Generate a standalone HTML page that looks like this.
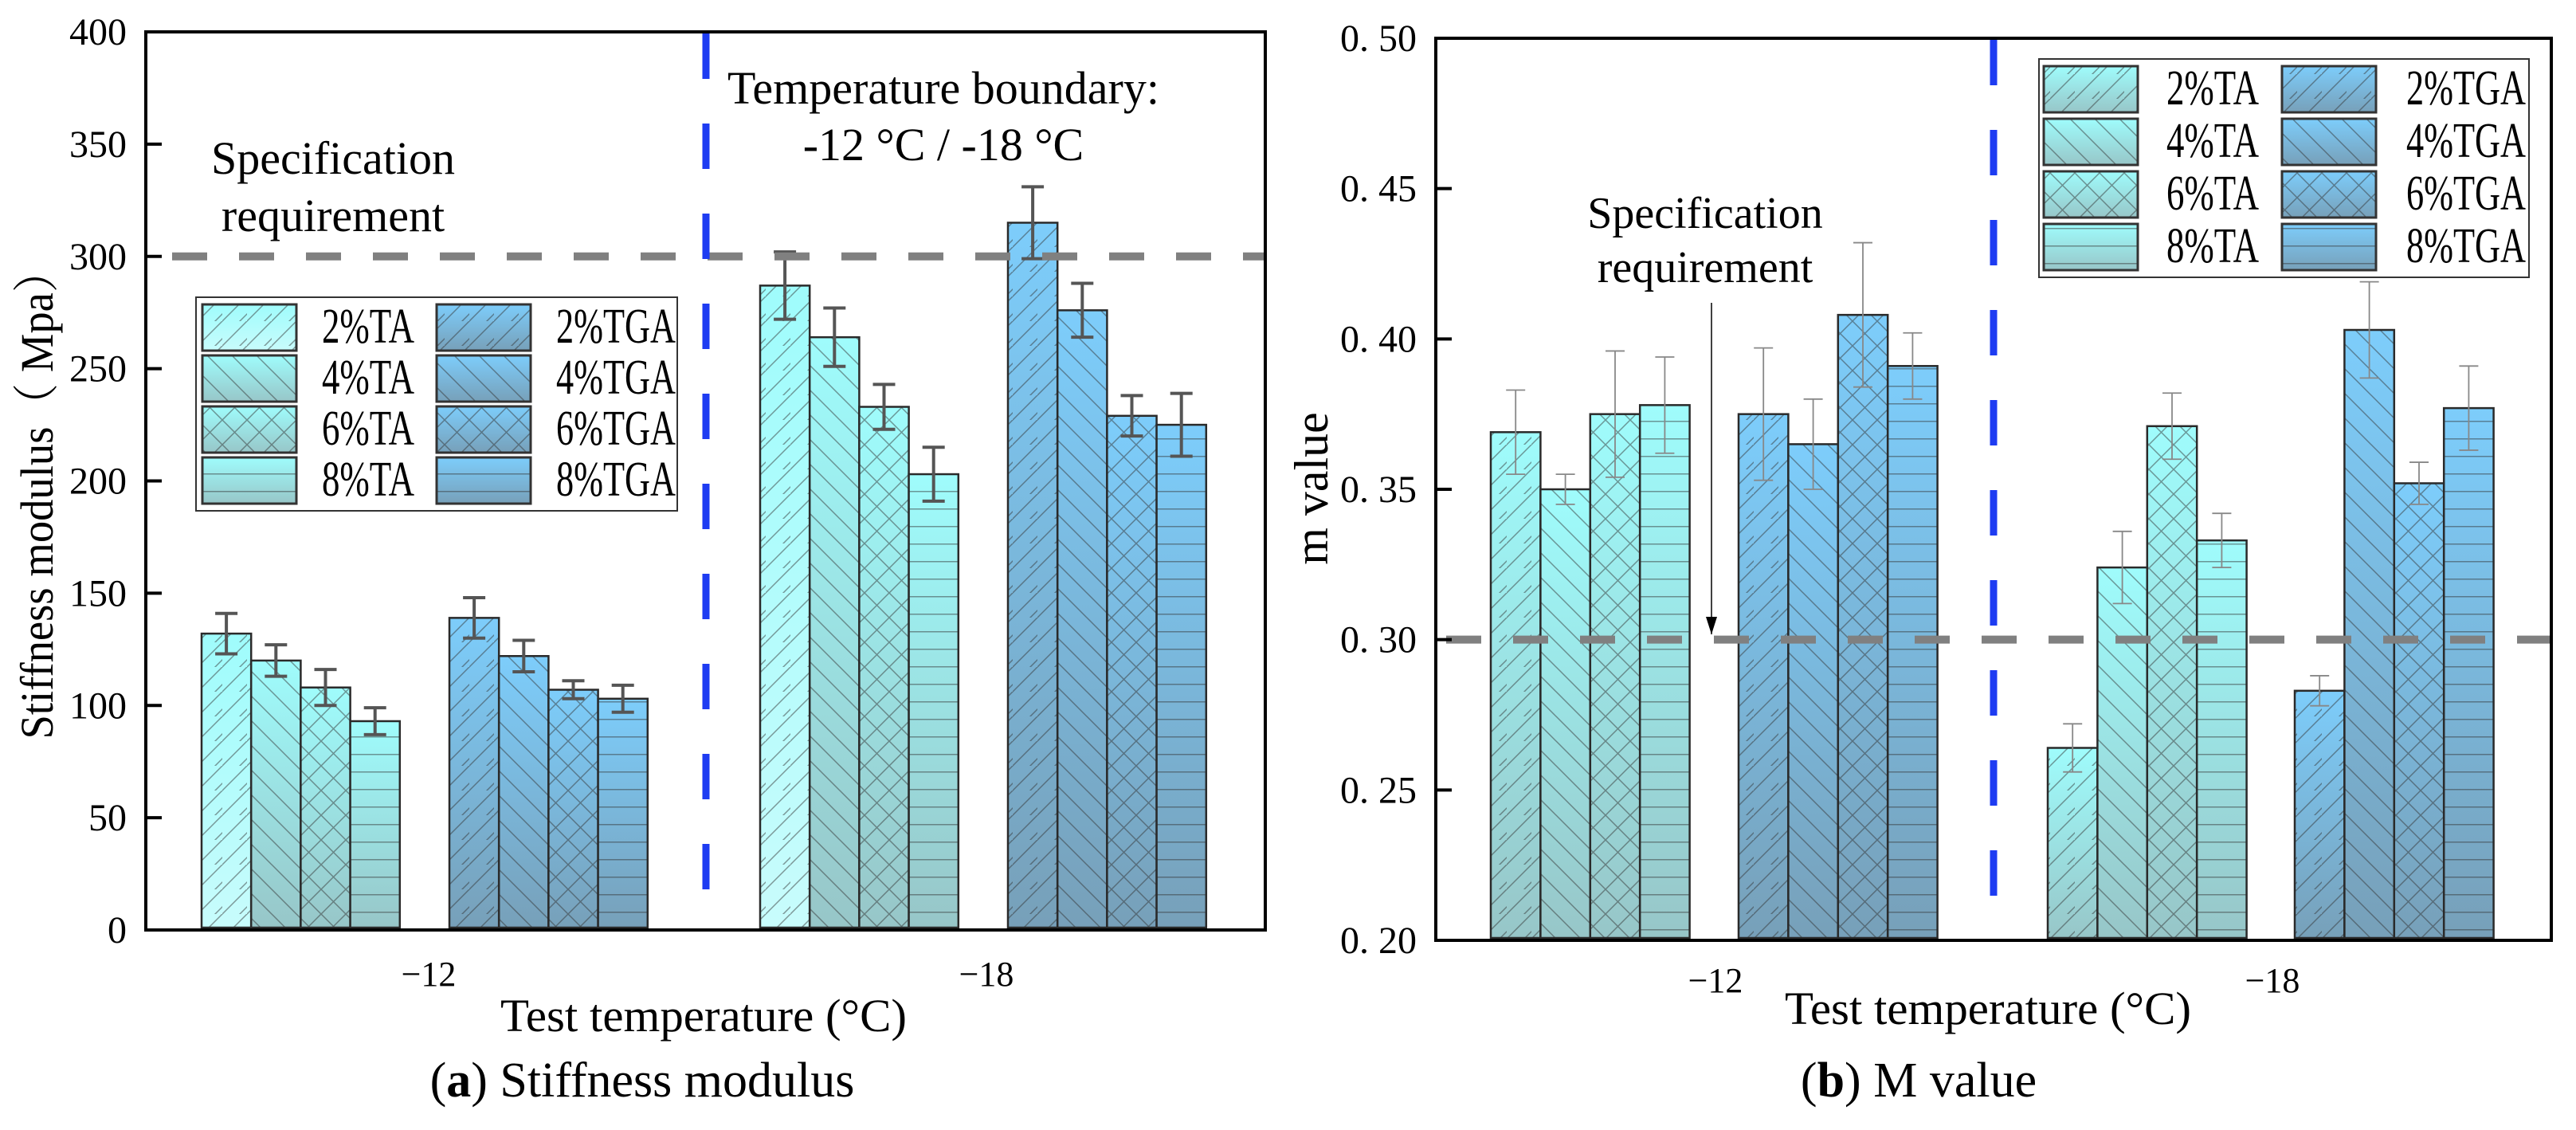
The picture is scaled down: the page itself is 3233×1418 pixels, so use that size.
<!DOCTYPE html>
<html><head><meta charset="utf-8"><style>
html,body{margin:0;padding:0;background:#fff;}
svg{display:block;font-family:"Liberation Serif",serif;}
</style></head><body>
<svg id="root" width="3233" height="1418" viewBox="0 0 3233 1418" xmlns="http://www.w3.org/2000/svg">
<defs>
<linearGradient id="gTA" x1="0" y1="0" x2="0" y2="1"><stop offset="0" stop-color="#9ffcfc"/><stop offset="1" stop-color="#97c6c8"/></linearGradient>
<linearGradient id="gTA2" x1="0" y1="0" x2="0" y2="1"><stop offset="0" stop-color="#9ffcfc"/><stop offset="1" stop-color="#c8fcfc"/></linearGradient>
<linearGradient id="gTGA" x1="0" y1="0" x2="0" y2="1"><stop offset="0" stop-color="#7dcdfb"/><stop offset="1" stop-color="#77a0b9"/></linearGradient>
<pattern id="h0" width="31" height="31" patternUnits="userSpaceOnUse"><path d="M-4,35 L35,-4 M-20,20 L20,-20 M11,42 L42,11" stroke="#333" stroke-width="1.5" stroke-opacity="0.5"/></pattern>
<pattern id="h1" width="31" height="31" patternUnits="userSpaceOnUse"><path d="M-4,-4 L35,35 M-20,11 L20,51 M11,-20 L51,20" stroke="#333" stroke-width="1.5" stroke-opacity="0.5"/></pattern>
<pattern id="h2" width="31" height="31" patternUnits="userSpaceOnUse"><path d="M-4,-4 L35,35 M-4,35 L35,-4" stroke="#333" stroke-width="1.5" stroke-opacity="0.5"/></pattern>
<pattern id="h3" width="31" height="22" patternUnits="userSpaceOnUse"><path d="M0,0.8 L31,0.8" stroke="#333" stroke-width="1.5" stroke-opacity="0.5"/></pattern>
<marker id="arr" markerWidth="22" markerHeight="14" refX="22" refY="7" orient="auto" markerUnits="userSpaceOnUse"><path d="M0,0 L22,7 L0,14 Z" fill="#000"/></marker>
</defs>
</svg>
<script>
// ---------- Data ----------
const categories = ["-12", "-18"];
const seriesNames = ["2%TA","4%TA","6%TA","8%TA","2%TGA","4%TGA","6%TGA","8%TGA"];
// Stiffness modulus (Mpa): [ -12, -18 ]
const stiffTA  = [[132,287],[120,264],[108,233],[93,203]];
const stiffTGA = [[139,315],[122,276],[107,229],[103,225]];
const stiffErrTA  = [[9,15],[7,13],[8,10],[6,12]];
const stiffErrTGA = [[9,16],[7,12],[4,9],[6,14]];
const stiffTicks = [0,50,100,150,200,250,300,350,400];
const stiffSpec = 300;
// m value
const mTA  = [[0.369,0.264],[0.350,0.324],[0.375,0.371],[0.378,0.333]];
const mTGA = [[0.375,0.283],[0.365,0.403],[0.408,0.352],[0.391,0.377]];
const mErrTA  = [[0.014,0.008],[0.005,0.012],[0.021,0.011],[0.016,0.009]];
const mErrTGA = [[0.022,0.005],[0.015,0.016],[0.024,0.007],[0.011,0.014]];
const mTicks = ["0. 20","0. 25","0. 30","0. 35","0. 40","0. 45","0. 50"];
const mTickVals = [0.20,0.25,0.30,0.35,0.40,0.45,0.50];
const mSpec = 0.30;

const NS="http://www.w3.org/2000/svg";
const root=document.getElementById('root');
function mk(tag,attrs,parent){const e=document.createElementNS(NS,tag);for(const k in attrs)e.setAttribute(k,attrs[k]);(parent||root).appendChild(e);return e;}

function chart(cfg){
  const g=mk('g',{});
  
  
  const y=v=>cfg.bottom-(v-cfg.min)/(cfg.max-cfg.min)*(cfg.bottom-cfg.top);
  const bw=cfg.bw;
  const groupStarts=cfg.groupStarts;
  for(let c=0;c<2;c++){
    for(let t=0;t<2;t++){
      const vals=t===0?cfg.ta:cfg.tga, errs=t===0?cfg.eta:cfg.etga;
      const gx=groupStarts[c*2+t];
      for(let i=0;i<4;i++){
        const v=vals[i][c], e=errs[i][c];
        const x=gx+i*bw, yt=y(v), h=cfg.bottom-3-yt;
        let grad=t===0?'url(#gTA)':'url(#gTGA)';
        if(cfg.lightFirst && t===0 && i===0) grad='url(#gTA2)';
        const r=mk('rect',{x:x,y:yt,width:bw,height:h,fill:grad},g);
        
        
        const hp=mk('rect',{x:x,y:yt,width:bw,height:h,fill:'url(#h'+i+')',stroke:'#2a2a2a','stroke-width':2.5},g);
        
        
        const cx=x+bw/2, y1=y(v+e), y2=y(v-e);
        const eb=mk('path',{d:`M${cx},${y1}L${cx},${y2}M${cx-cfg.cap},${y1}L${cx+cfg.cap},${y1}M${cx-cfg.cap},${y2}L${cx+cfg.cap},${y2}`,stroke:cfg.errColor,'stroke-width':cfg.errW,fill:'none'},g);
        
        
      }
    }
  }
  const sl=mk('line',{x1:cfg.left+3,x2:cfg.right-2,y1:y(cfg.spec),y2:y(cfg.spec),stroke:'#808080','stroke-width':10,'stroke-dasharray':'44 40','stroke-dashoffset':cfg.specOff},g);
  
  
  const bl=mk('line',{x1:cfg.bx,x2:cfg.bx,y1:cfg.top+2,y2:cfg.bottom-2,stroke:'#1e3cf2','stroke-width':9,'stroke-dasharray':'57 56'},g);
  
  
  const fr=mk('rect',{x:cfg.left,y:cfg.top,width:cfg.right-cfg.left,height:cfg.bottom-cfg.top,fill:'none',stroke:'#000','stroke-width':4},g);
  
  
  for(let k=0;k<cfg.tickVals.length;k++){
    const ty=y(cfg.tickVals[k]);
    const tk=mk('line',{x1:cfg.left,x2:cfg.left+20,y1:ty,y2:ty,stroke:'#000','stroke-width':4},g);
    
    
    const tl=mk('text',{x:cfg.left-24,y:ty+16,'font-size':48,'text-anchor':'end',fill:'#000'},g);
    tl.textContent=cfg.tickLabels[k];
    
    
  }
  for(let c=0;c<2;c++){
    const t=mk('text',{x:cfg.catX[c],y:cfg.catY,'font-size':44,'text-anchor':'middle'},g);
    t.textContent=categories[c].replace('-','\u2212');
    
    
  }
  const lg=mk('g',{},g);
  
  
  const L=cfg.legend;
  mk('rect',{x:L.x,y:L.y,width:L.w,height:L.h,fill:'#fff',stroke:'#333','stroke-width':2},lg);
  for(let t=0;t<2;t++)for(let i=0;i<4;i++){
    const sx=L.x+(t===0?L.s1:L.s2), sy=L.y+L.r0+i*L.step;
    let grad=t===0?'url(#gTA)':'url(#gTGA)';
    if(cfg.lightFirst && t===0 && i===0) grad='url(#gTA2)';
    const sw=mk('rect',{x:sx,y:sy,width:118,height:58,fill:grad},lg);
    
    
    mk('rect',{x:sx,y:sy,width:118,height:58,fill:'url(#h'+i+')',stroke:'#333','stroke-width':3},lg);
    const lt=mk('text',{x:L.x+(t===0?L.t1:L.t2),y:sy+48,'font-size':62,textLength:t===0?116:150,lengthAdjust:'spacingAndGlyphs'},lg);
    lt.textContent=seriesNames[t*4+i];
    
    
  }
  return g;
}

chart({name:'stiffness-chart',left:183,right:1588,top:40,bottom:1167,min:0,max:400,bw:62.2,
  groupStarts:[253,564,954,1265],ta:stiffTA,tga:stiffTGA,eta:stiffErrTA,etga:stiffErrTGA,
  lightFirst:true,cap:14,errColor:'#555',errW:4,spec:stiffSpec,specOff:-30,bx:886,
  tickVals:stiffTicks,tickLabels:stiffTicks.map(String),catX:[538,1238],catY:1237,
  legend:{x:246,y:373,w:604,h:268,s1:8,s2:302,t1:158,t2:452,r0:9,step:64}});
chart({name:'m-value-chart',left:1802,right:3202,top:48,bottom:1180,min:0.2,max:0.5,bw:62.4,
  groupStarts:[1871,2182,2570,2880],ta:mTA,tga:mTGA,eta:mErrTA,etga:mErrTGA,
  lightFirst:false,cap:12,errColor:'#888',errW:1.8,spec:mSpec,specOff:-10,bx:2502,
  tickVals:mTickVals,tickLabels:mTicks,catX:[2153,2852],catY:1245,
  legend:{x:2559,y:74,w:615,h:274,s1:6,s2:305,t1:160,t2:461,r0:9,step:66}});

function txt(s,attrs,name){const t=mk('text',attrs);t.textContent=s;return t;}
txt('Specification',{x:418,y:218,'font-size':58,'text-anchor':'middle'},'spec-annotation-a');
txt('requirement',{x:418,y:290,'font-size':58,'text-anchor':'middle'},'spec-annotation-a-2');
txt('Temperature boundary:',{x:1184,y:130,'font-size':58,'text-anchor':'middle'},'boundary-annotation');
txt('-12 °C / -18 °C',{x:1184,y:201,'font-size':58,'text-anchor':'middle'},'boundary-annotation-2');
txt('Stiffness modulus（ Mpa）',{x:0,y:0,'font-size':58,'text-anchor':'middle',transform:'translate(66,620) rotate(-90)',textLength:615,lengthAdjust:'spacingAndGlyphs',style:'font-family:"Liberation Serif","Noto Serif CJK SC",serif'},'y-axis-title-a');
txt('Test temperature (°C)',{x:883,y:1294,'font-size':58,'text-anchor':'middle',textLength:510,lengthAdjust:'spacingAndGlyphs'},'x-axis-title-a');
const ca=txt('',{x:806,y:1376,'font-size':62,'text-anchor':'middle'},'caption-a');
ca.innerHTML='(<tspan font-weight="bold">a</tspan>) Stiffness modulus';
txt('Specification',{x:2140,y:286,'font-size':56,'text-anchor':'middle'},'spec-annotation-b');
txt('requirement',{x:2140,y:354,'font-size':56,'text-anchor':'middle'},'spec-annotation-b-2');
const ar=mk('line',{x1:2148,y1:380,x2:2148,y2:796,stroke:'#000','stroke-width':1.5,'marker-end':'url(#arr)'});


txt('m value',{x:0,y:0,'font-size':60,'text-anchor':'middle',transform:'translate(1666,613) rotate(-90)'},'y-axis-title-b');
txt('Test temperature (°C)',{x:2495,y:1285,'font-size':58,'text-anchor':'middle',textLength:510,lengthAdjust:'spacingAndGlyphs'},'x-axis-title-b');
const cb=txt('',{x:2408,y:1376,'font-size':62,'text-anchor':'middle'},'caption-b');
cb.innerHTML='(<tspan font-weight="bold">b</tspan>) M value';
</script>
</body></html>
